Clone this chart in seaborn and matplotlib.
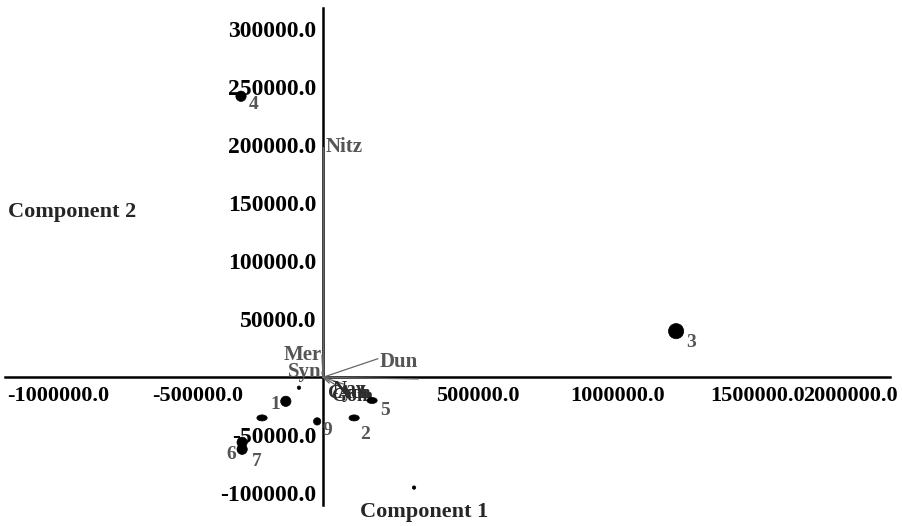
import numpy as np
import pandas as pd
import matplotlib
matplotlib.use("Agg")
import matplotlib.pyplot as plt
import seaborn as sns
from matplotlib.path import Path
from matplotlib.transforms import Affine2D, ScaledTranslation

# ---- data ----
case_labels = ["1", "2", "3", "4", "5", "6", "7", "8", "9", "", ""]
comp1 = [-133000, 111000, 1261000, -293000, 175000, -289000, -289000, -218000, -21000, -86000, 325000]
comp2 = [-20700, -35000, 39700, 242000, -20000, -56000, -62000, -35000, -38000, -9000, -95000]
shape = ["round", "oval", "round", "round", "oval", "round", "round", "oval", "round", "round", "round"]
msize = ["mid", "mid", "big", "mid", "mid", "mid", "mid", "mid", "small", "tiny", "tiny"]

var_names = ["Nitz", "Mer", "Syn", "Dun", "Nav", "Cym", "Gom", "Ach"]
var_c1 = [0, -4000, -4000, 196000, 340000, 22000, 48000, 75000]
var_c2 = [198000, 19000, 4500, 16000, -1500, -5000, -7000, -6000]

x_ticks = [-1000000, -500000, 500000, 1000000, 1500000, 2000000]
y_ticks = [-100000, -50000, 50000, 100000, 150000, 200000, 250000, 300000]

# ---- style ----
sns.set_theme(style="white")
plt.rcParams["font.family"] = ["Liberation Serif", "DejaVu Serif"]
plt.rcParams["font.weight"] = "bold"

W, H = 903, 526
fig = plt.figure(figsize=(W / 100, H / 100), dpi=100)
ax = fig.add_axes([5 / W, 21 / H, 885 / W, 497 / H])
ax.set_xlim(-1136000, 2025000)
ax.set_ylim(-110000, 318000)

df = pd.DataFrame({"c1": comp1, "c2": comp2, "shape": shape, "msize": msize})
oval = Path.unit_circle().transformed(Affine2D().scale(1.7, 1.0))
sns.scatterplot(data=df, x="c1", y="c2", style="shape", size="msize",
                markers={"round": "o", "oval": oval},
                sizes={"big": 120, "mid": 55, "small": 28, "tiny": 6},
                color="black", edgecolor="black", linewidth=0.5,
                legend=False, ax=ax, zorder=5)

# case number labels (offsets in pixels)
case_off = {"1": (-6, -3, "right"), "2": (6, -17, "left"), "3": (10, -11, "left"),
            "4": (8, -8, "left"), "5": (8, -10, "left"), "6": (-6, -12, "right"),
            "7": (10, -12, "left"), "9": (5, -9, "left")}
for lab, x, y in zip(case_labels, comp1, comp2):
    if lab in case_off:
        dx, dy, ha = case_off[lab]
        ax.annotate(lab, (x, y), xytext=(dx, dy), textcoords="offset pixels",
                    ha=ha, va="center", fontsize=14, color="#555555",
                    fontweight="bold", zorder=6)

# variable vectors: label offsets (pixels) from the vector end
var_style = {
    "Nitz": dict(dx=3, dy=0, ha="left", va="center", size=15, color="#555555"),
    "Mer": dict(dx=0, dy=0, ha="right", va="center", size=15, color="#555555"),
    "Syn": dict(dx=0, dy=0, ha="right", va="center", size=15, color="#555555"),
    "Dun": dict(dx=2, dy=-3, ha="left", va="center", size=15, color="#555555"),
    "Nav": dict(dx=-86, dy=-2, ha="left", va="top", size=14, color="#2c2c2c"),
    "Cym": dict(dx=-1, dy=-2, ha="left", va="top", size=14, color="#2c2c2c"),
    "Gom": dict(dx=-4, dy=-3, ha="left", va="top", size=14, color="#2c2c2c"),
    "Ach": dict(dx=-6, dy=-1, ha="left", va="top", size=14, color="#2c2c2c"),
}
for name, x, y in zip(var_names, var_c1, var_c2):
    ax.plot([0, x], [0, y], color="#666666", lw=0.9, zorder=3)
    s = var_style[name]
    ax.annotate(name, (x, y), xytext=(s["dx"], s["dy"]), textcoords="offset pixels",
                ha=s["ha"], va=s["va"], fontsize=s["size"], color=s["color"],
                fontweight="bold", zorder=4)

# axes crossing at the origin
for side in ["top", "right"]:
    ax.spines[side].set_visible(False)
ax.spines["left"].set_position(("data", 0))
ax.spines["bottom"].set_position(("data", 0))
for side in ["left", "bottom"]:
    ax.spines[side].set_color("black")
    ax.spines[side].set_linewidth(1.8)
    ax.spines[side].set_zorder(2)

ax.set_xticks(x_ticks)
ax.set_xticklabels([f"{v:.1f}" for v in x_ticks])
ax.set_yticks(y_ticks)
ax.set_yticklabels([f"{v:.1f}" for v in y_ticks])
ax.tick_params(axis="both", direction="out", length=3, width=1, color="#444444",
               labelcolor="black", pad=2)
ax.tick_params(axis="x", pad=3, labelsize=16)
ax.tick_params(axis="y", labelsize=17)
ax.set_xlabel("")
ax.set_ylabel("")
ax.grid(False)

fig.canvas.draw()
shift = ScaledTranslation(15 / 100, 0, fig.dpi_scale_trans)
xl = ax.get_xticklabels()
for t in xl:
    t.set_transform(t.get_transform() + shift)
    t.set_fontweight("bold")
xl[-1].set_horizontalalignment("right")
for t in ax.get_yticklabels():
    t.set_fontweight("bold")

fig.text(8 / W, 1 - 212 / H, "Component 2", ha="left", va="center",
         fontsize=16, fontweight="bold")
fig.text(424 / W, 1 - 512 / H, "Component 1", ha="center", va="center",
         fontsize=16, fontweight="bold")

fig.savefig("out.png", dpi=100)
